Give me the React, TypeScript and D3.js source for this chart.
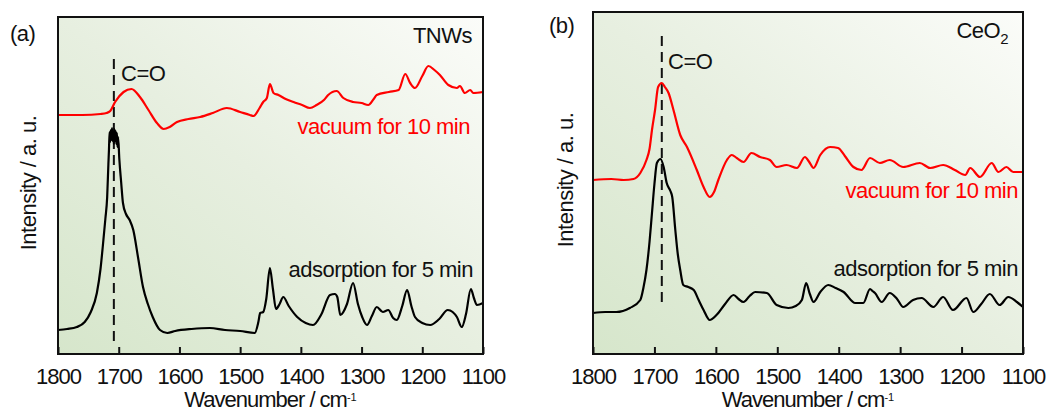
import React, { useEffect, useRef } from 'react';
import * as d3 from 'd3';

const wavenumberTicks = [1800, 1700, 1600, 1500, 1400, 1300, 1200, 1100];

// [wavenumber (cm-1), intensity (a.u.)]
const tnwsAdsorption: [number, number][] = [
  [1800, 24], [1785, 25], [1769, 27], [1756, 32], [1746, 42], [1736, 61], [1730, 85], [1726, 109],
  [1722, 135], [1719, 157], [1717, 190], [1716, 205], [1715, 222], [1714, 212], [1713, 224], [1712, 214],
  [1711, 226], [1710, 213], [1709, 222], [1708, 210], [1707, 225], [1706, 213], [1705, 223], [1704, 210],
  [1703, 221], [1702, 207], [1701, 217], [1699, 195], [1696, 172], [1693, 151], [1688, 140], [1682, 134],
  [1676, 124], [1668, 96], [1660, 67], [1652, 50], [1644, 37], [1632, 24], [1620, 21], [1607, 23],
  [1580, 25], [1550, 26], [1525, 24], [1500, 23], [1476, 21], [1470, 32], [1467, 41], [1462, 42],
  [1457, 55], [1451, 86], [1446, 65], [1441, 45], [1435, 50], [1429, 57], [1420, 48], [1406, 37],
  [1392, 31], [1380, 29], [1366, 40], [1352, 59], [1344, 60], [1340, 57], [1335, 39], [1324, 50],
  [1314, 71], [1306, 50], [1299, 37], [1291, 29], [1283, 38], [1275, 47], [1265, 42], [1256, 44],
  [1248, 36], [1242, 34], [1233, 48], [1225, 64], [1218, 48], [1212, 37], [1200, 31], [1187, 29],
  [1172, 35], [1158, 44], [1150, 42], [1143, 37], [1135, 27], [1128, 40], [1120, 65], [1115, 56],
  [1110, 49], [1100, 51],
];

const tnwsVacuum: [number, number][] = [
  [1800, 239], [1760, 239], [1730, 240], [1720, 241], [1714, 243], [1706, 252], [1692, 262], [1679, 265],
  [1665, 257], [1651, 244], [1637, 231], [1626, 225], [1616, 227], [1604, 232], [1585, 235], [1566, 237],
  [1545, 241], [1522, 246], [1500, 242], [1484, 239], [1478, 238], [1468, 246], [1462, 252], [1456, 256],
  [1451, 270], [1445, 261], [1437, 259], [1425, 255], [1412, 252], [1398, 249], [1385, 246], [1374, 249],
  [1362, 254], [1355, 259], [1341, 263], [1330, 256], [1314, 252], [1300, 251], [1289, 249], [1280, 255],
  [1275, 259], [1255, 262], [1239, 264], [1228, 280], [1220, 271], [1212, 266], [1200, 278], [1190, 288],
  [1180, 284], [1171, 279], [1157, 269], [1143, 266], [1138, 268], [1130, 261], [1121, 264], [1116, 261],
  [1100, 262],
];

const ceo2Adsorption: [number, number][] = [
  [1800, 41], [1780, 42], [1762, 42], [1740, 46], [1723, 54], [1718, 66], [1713, 84], [1708, 112],
  [1704, 141], [1700, 170], [1696, 191], [1690, 195], [1685, 187], [1680, 171], [1674, 163], [1671, 157],
  [1666, 124], [1662, 100], [1658, 84], [1653, 69], [1645, 67], [1636, 64], [1628, 54], [1620, 44],
  [1610, 34], [1599, 39], [1585, 50], [1571, 59], [1563, 55], [1555, 52], [1545, 58], [1536, 62],
  [1517, 61], [1501, 49], [1482, 46], [1470, 48], [1460, 54], [1453, 71], [1447, 60], [1441, 52],
  [1430, 62], [1417, 69], [1405, 66], [1392, 62], [1373, 51], [1360, 51], [1349, 65], [1345, 63],
  [1341, 61], [1330, 52], [1317, 61], [1305, 55], [1295, 47], [1279, 54], [1265, 56], [1246, 47],
  [1230, 57], [1214, 44], [1192, 56], [1181, 42], [1168, 50], [1154, 60], [1138, 49], [1124, 57],
  [1110, 52], [1100, 47],
];

const ceo2Vacuum: [number, number][] = [
  [1800, 174], [1770, 175], [1750, 174], [1734, 175], [1723, 181], [1713, 194], [1708, 205], [1704, 224],
  [1699, 244], [1694, 267], [1688, 271], [1683, 267], [1677, 261], [1669, 244], [1658, 219], [1647, 207],
  [1631, 184], [1620, 167], [1610, 157], [1603, 162], [1596, 174], [1582, 194], [1574, 199], [1566, 196],
  [1555, 192], [1542, 201], [1528, 197], [1512, 194], [1501, 187], [1485, 189], [1468, 186], [1455, 197],
  [1448, 192], [1441, 186], [1430, 199], [1414, 207], [1401, 206], [1390, 198], [1376, 187], [1363, 184],
  [1349, 196], [1333, 191], [1317, 194], [1295, 187], [1268, 191], [1251, 186], [1230, 189], [1211, 184],
  [1194, 179], [1186, 186], [1170, 177], [1151, 191], [1140, 182], [1127, 187], [1116, 182], [1100, 182],
];

// C=O marker: wavenumber and the intensity range the dashed line covers
const tnwsCO = { w: 1708, from: 11, to: 295 };
const ceo2CO = { w: 1688, from: 52, to: 318 };

const FONT = '"Liberation Sans", Arial, sans-serif';

const panels = [
  {
    box: { left: 58, right: 483, top: 17, bottom: 354 },
    letter: '(a)', letterPos: [10, 41],
    sample: 'TNWs', sub: '', samplePos: [472, 43],
    adsorption: tnwsAdsorption, vacuum: tnwsVacuum, co: tnwsCO,
    coPos: [121, 81], vacPos: [470, 134], adsPos: [473, 277], yLabelPos: [36, 183],
  },
  {
    box: { left: 593, right: 1023, top: 12, bottom: 354 },
    letter: '(b)', letterPos: [549, 33],
    sample: 'CeO', sub: '2', samplePos: [1008, 38],
    adsorption: ceo2Adsorption, vacuum: ceo2Vacuum, co: ceo2CO,
    coPos: [668, 69], vacPos: [1018, 198], adsPos: [1018, 276], yLabelPos: [573, 180],
  },
];

const App = () => {
  const svgRef = useRef<SVGSVGElement>(null);

  useEffect(() => {
    if (!svgRef.current) return;
    const svg = d3.select(svgRef.current);
    svg.selectAll('*').remove();

    const grad = svg.append('defs').append('linearGradient')
      .attr('id', 'panel-bg')
      .attr('x1', 0).attr('y1', 1).attr('x2', 1).attr('y2', 0);
    grad.append('stop').attr('offset', '0%').attr('stop-color', '#d6e6cb');
    grad.append('stop').attr('offset', '50%').attr('stop-color', '#e7efe0');
    grad.append('stop').attr('offset', '100%').attr('stop-color', '#fbfcf9');

    panels.forEach((p) => {
      const { left, right, top, bottom } = p.box;
      const x = d3.scaleLinear().domain([1800, 1100]).range([left, right]);
      const y = d3.scaleLinear().domain([0, bottom - top]).range([bottom, top]);
      const g = svg.append('g');

      g.append('rect')
        .attr('x', left).attr('y', top)
        .attr('width', right - left).attr('height', bottom - top)
        .attr('fill', 'url(#panel-bg)');

      const line = d3.line<[number, number]>()
        .x(d => x(d[0]))
        .y(d => y(d[1]))
        .curve(d3.curveMonotoneX);

      g.append('line')
        .attr('x1', x(p.co.w)).attr('x2', x(p.co.w))
        .attr('y1', y(p.co.to)).attr('y2', y(p.co.from))
        .attr('stroke', '#111')
        .attr('stroke-width', 2)
        .attr('stroke-dasharray', '10,6');

      g.append('path')
        .datum(p.vacuum)
        .attr('d', line)
        .attr('fill', 'none')
        .attr('stroke', '#ff0000')
        .attr('stroke-width', 2.2);

      g.append('path')
        .datum(p.adsorption)
        .attr('d', line)
        .attr('fill', 'none')
        .attr('stroke', '#000')
        .attr('stroke-width', 2.2);

      const axis = g.append('g')
        .attr('transform', `translate(0,${bottom})`)
        .call(d3.axisBottom(x).tickValues(wavenumberTicks).tickSizeInner(-7).tickSizeOuter(0).tickPadding(14).tickFormat(d3.format('d')));
      axis.select('.domain').remove();
      axis.selectAll('line').attr('stroke', '#111').attr('stroke-width', 2);
      axis.selectAll('text')
        .attr('fill', '#111')
        .style('font-family', FONT)
        .style('font-size', '22px')
        .style('letter-spacing', '-1px');

      g.append('rect')
        .attr('x', left).attr('y', top)
        .attr('width', right - left).attr('height', bottom - top)
        .attr('fill', 'none')
        .attr('stroke', '#111')
        .attr('stroke-width', 2);

      const txt = (sel: any) => sel
        .style('font-family', FONT)
        .style('font-size', '22px')
        .style('letter-spacing', '-0.5px');

      const xt = g.append('text')
        .attr('x', (left + right) / 2).attr('y', 407)
        .attr('text-anchor', 'middle')
        .attr('fill', '#111')
        .call(txt)
        .style('letter-spacing', '-1px');
      xt.append('tspan').text('Wavenumber / cm');
      xt.append('tspan').attr('dy', -6).style('font-size', '11px').style('letter-spacing', '0px').text('-1');

      g.append('text')
        .attr('transform', `translate(${p.yLabelPos[0]},${p.yLabelPos[1]}) rotate(-90)`)
        .attr('text-anchor', 'middle')
        .attr('fill', '#111')
        .call(txt)
        .text('Intensity / a. u.');

      g.append('text')
        .attr('x', p.letterPos[0]).attr('y', p.letterPos[1])
        .attr('fill', '#111')
        .call(txt)
        .text(p.letter);

      const st = g.append('text')
        .attr('x', p.samplePos[0]).attr('y', p.samplePos[1])
        .attr('text-anchor', 'end')
        .attr('fill', '#111')
        .call(txt);
      st.append('tspan').text(p.sample);
      if (p.sub) st.append('tspan').attr('dy', 6).style('font-size', '15px').text(p.sub);

      g.append('text')
        .attr('x', p.coPos[0]).attr('y', p.coPos[1])
        .attr('fill', '#111')
        .call(txt)
        .text('C=O');

      g.append('text')
        .attr('x', p.vacPos[0]).attr('y', p.vacPos[1])
        .attr('text-anchor', 'end')
        .attr('fill', '#ff0000')
        .call(txt)
        .text('vacuum for 10 min');

      g.append('text')
        .attr('x', p.adsPos[0]).attr('y', p.adsPos[1])
        .attr('text-anchor', 'end')
        .attr('fill', '#111')
        .call(txt)
        .text('adsorption for 5 min');
    });
  }, []);

  return (
    <svg
      ref={svgRef}
      width={1052}
      height={412}
      style={{ position: 'absolute', left: 0, top: 0, background: '#fff' }}
    />
  );
};

export default App;
